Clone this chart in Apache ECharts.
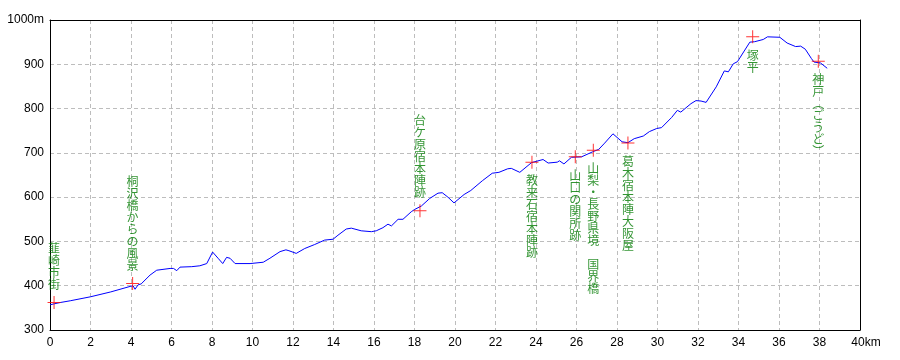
<!DOCTYPE html>
<html>
<head>
<meta charset="utf-8">
<script src="https://cdn.jsdelivr.net/npm/echarts@6/dist/echarts.min.js"></script>
<style>html,body{margin:0;padding:0;background:#fff;}#c{width:900px;height:360px;}</style>
</head>
<body>
<div id="c"></div>
<script>
// Elevation profile: distance (km) and elevation (m)
const distKm = [0,0.5,1.0,2.0,3.0,4.0,4.1,4.2,4.35,4.5,4.94,5.27,5.93,6.1,6.26,6.42,7.0,7.4,7.74,8.03,8.3,8.53,8.72,8.89,9.14,9.88,10.53,10.86,11.36,11.65,11.8,12.16,12.58,13.07,13.56,13.98,14.22,14.63,14.88,15.37,15.87,16.11,16.44,16.69,16.86,17.19,17.43,17.84,18.0,18.34,18.75,19.16,19.37,19.65,19.95,20.45,20.78,21.35,21.84,22.17,22.6,22.78,23.2,23.78,24.35,24.6,25.05,25.16,25.38,25.75,26.25,26.78,27.1,27.39,27.8,28.25,28.54,28.85,29.3,29.6,29.96,30.2,30.7,30.98,31.15,31.65,31.9,32.15,32.4,32.9,33.3,33.5,33.74,33.95,34.56,34.8,35.22,35.43,36.04,36.4,36.82,37.07,37.3,37.6,37.73,38.05,38.38];
const elevM = [357,362,366,375,386,399,400,392,402,404,424,435,439,439,434,442,443,445,450,476,462,450,464,462,450,450,453,462,477,481,479,473,484,493,503,505,514,528,530,524,522,524,531,539,535,550,550,567,572,580,597,609,610,600,587,606,615,637,654,656,664,665,656,678,685,677,679,682,675,690,691,702,708,722,743,725,723,732,738,748,755,757,780,796,792,811,818,817,814,849,885,883,901,906,950,951,956,962,961,948,940,941,934,913,905,903,891];

// Landmarks
const markerKm = [0.2,4.08,18.27,23.8,25.94,26.83,28.54,34.7,37.94];
const markerElev = [362,405,569,679,691,706,722,962,907];
const markerNames = ['韮崎市街','桐沢橋からの風景','台ケ原宿本陣跡','教来石宿本陣跡','山口の関所跡','山梨・長野県境　国界橋','葛木宿本陣大阪屋','塚平','神戸︵ごうど︶'];
const markerLabelPos = ['top','top','top','bottom','bottom','bottom','bottom','bottom','bottom'];

const xTicks = {min:0, max:40, interval:2, unit:'km'};
const yTicks = {min:300, max:1000, interval:100, unit:'m'};

const lineData = distKm.map((d,i)=>[d, elevM[i]]);
const markData = markerKm.map((d,i)=>({
  value:[d, markerElev[i]],
  label:{
    show:true,
    position: markerLabelPos[i],
    distance: 6,
    formatter: markerNames[i].split('').join('\n')
  }
}));

const axisFont = "'Liberation Sans',Arial,sans-serif";
const chart = echarts.init(document.getElementById('c'), null, {renderer:'canvas'});
chart.setOption({
  animation:false,
  backgroundColor:'#fff',
  grid:{left:50, right:40, top:20, bottom:30, show:false},
  xAxis:[{
    type:'value', min:xTicks.min, max:xTicks.max, interval:xTicks.interval,
    axisLine:{show:true, onZero:false, lineStyle:{color:'#000', width:1}},
    axisTick:{show:false},
    axisLabel:{
      color:'#000', fontSize:12, fontFamily:axisFont, margin:7,
      formatter:v => v===xTicks.max ? '{p|}'+v+xTicks.unit : String(v),
      rich:{p:{width:12}}
    },
    splitLine:{show:true, lineStyle:{color:'#bdbdbd', type:[4,3], width:1}}
  },{
    type:'value', position:'top', min:xTicks.min, max:xTicks.max, interval:xTicks.interval,
    axisLine:{show:true, onZero:false, lineStyle:{color:'#000', width:1}},
    axisTick:{show:false}, axisLabel:{show:false}, splitLine:{show:false}
  }],
  yAxis:[{
    type:'value', min:yTicks.min, max:yTicks.max, interval:yTicks.interval,
    axisLine:{show:true, onZero:false, lineStyle:{color:'#000', width:1}},
    axisTick:{show:false},
    axisLabel:{
      color:'#000', fontSize:12, fontFamily:axisFont, margin:6,
      formatter:v => v===yTicks.max ? v+yTicks.unit : String(v)
    },
    splitLine:{show:true, lineStyle:{color:'#bdbdbd', type:[4,3], width:1}}
  },{
    type:'value', position:'right', min:yTicks.min, max:yTicks.max, interval:yTicks.interval,
    axisLine:{show:true, onZero:false, lineStyle:{color:'#000', width:1}},
    axisTick:{show:false}, axisLabel:{show:false}, splitLine:{show:false}
  }],
  series:[{
    type:'line',
    data:lineData,
    showSymbol:false,
    symbol:'none',
    lineStyle:{color:'#0000ff', width:1},
    z:3
  },{
    type:'scatter',
    data:markData,
    symbol:'path://M6,0H7V6H13V7H7V13H6V7H0V6H6Z',
    symbolSize:13,
    itemStyle:{color:'#ff0000'},
    label:{
      color:'#007a00', fontSize:12, lineHeight:12,
      fontFamily:"'Noto Sans CJK JP','Noto Sans CJK SC',sans-serif",
      align:'center'
    },
    emphasis:{disabled:true},
    z:4
  }]
});
</script>
</body>
</html>
